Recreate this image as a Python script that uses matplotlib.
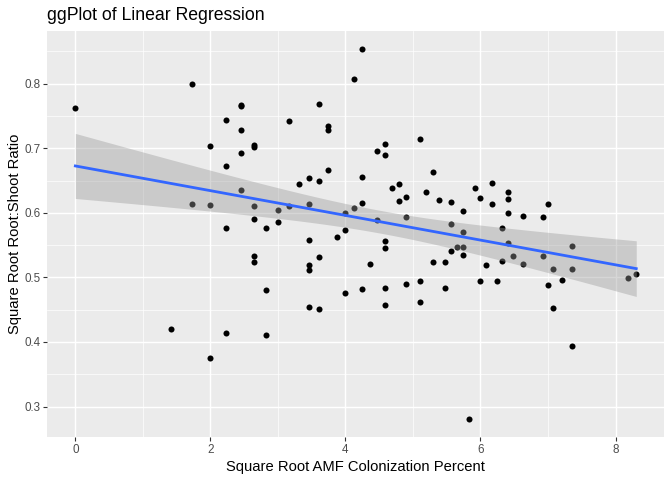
import numpy as np
import matplotlib
matplotlib.use("Agg")
import matplotlib.pyplot as plt
from matplotlib.ticker import MultipleLocator

plt.rcParams['font.family'] = ['Liberation Sans', 'DejaVu Sans']

# Data (x = sqrt AMF colonization %, y = sqrt root:shoot ratio)
x_vals = [0.0,
          1.414,
          1.732, 1.732,
          2.0, 2.0, 2.0,
          2.236, 2.236, 2.236, 2.236,
          2.449, 2.449, 2.449, 2.449, 2.449,
          2.646, 2.646, 2.646, 2.646, 2.646, 2.646,
          2.828, 2.828, 2.828,
          3.0, 3.0,
          3.162, 3.162,
          3.317,
          3.464, 3.464, 3.464, 3.464, 3.464, 3.464,
          3.606, 3.606, 3.606, 3.606,
          3.742, 3.742, 3.742,
          3.873,
          4.0, 4.0, 4.0,
          4.123, 4.123,
          4.243, 4.243, 4.243, 4.243,
          4.359,
          4.472, 4.472,
          4.583, 4.583, 4.583, 4.583, 4.583, 4.583,
          4.690,
          4.796, 4.796,
          4.899, 4.899, 4.899,
          5.099, 5.099, 5.099,
          5.196,
          5.292, 5.292,
          5.385,
          5.477, 5.477,
          5.568, 5.568, 5.568,
          5.657,
          5.745, 5.745, 5.745, 5.745,
          5.831,
          5.916,
          6.0, 6.0,
          6.083,
          6.164, 6.164,
          6.245,
          6.325, 6.325,
          6.403, 6.403, 6.403, 6.403,
          6.481,
          6.633, 6.633,
          6.928, 6.928,
          7.0, 7.0,
          7.071, 7.071,
          7.211,
          7.348, 7.348, 7.348,
          8.185,
          8.307]
y_vals = [0.762,
          0.420,
          0.799, 0.613,
          0.703, 0.612, 0.375,
          0.743, 0.673, 0.577, 0.414,
          0.767, 0.765, 0.729, 0.692, 0.635,
          0.705, 0.702, 0.610, 0.591, 0.533, 0.524,
          0.577, 0.481, 0.411,
          0.604, 0.586,
          0.742, 0.610,
          0.644,
          0.654, 0.613, 0.558, 0.519, 0.511, 0.454,
          0.768, 0.649, 0.532, 0.451,
          0.735, 0.728, 0.666,
          0.562,
          0.599, 0.573, 0.476,
          0.808, 0.608,
          0.853, 0.655, 0.615, 0.482,
          0.521,
          0.695, 0.589,
          0.707, 0.690, 0.556, 0.545, 0.483, 0.458,
          0.639,
          0.644, 0.618,
          0.624, 0.593, 0.490,
          0.714, 0.495, 0.462,
          0.633,
          0.664, 0.524,
          0.620,
          0.524, 0.483,
          0.617, 0.583, 0.541,
          0.547,
          0.603, 0.570, 0.547, 0.534,
          0.281,
          0.638,
          0.623, 0.494,
          0.519,
          0.646, 0.613,
          0.495,
          0.576, 0.526,
          0.633, 0.622, 0.599, 0.554,
          0.533,
          0.595, 0.521,
          0.593, 0.533,
          0.613, 0.488,
          0.513, 0.453,
          0.496,
          0.548, 0.513, 0.394,
          0.499,
          0.505]

x_ticks = [0, 2, 4, 6, 8]
y_ticks = [0.3, 0.4, 0.5, 0.6, 0.7, 0.8]
title = "ggPlot of Linear Regression"
x_label = "Square Root AMF Colonization Percent"
y_label = "Square Root Root:Shoot Ratio"

x = np.array(x_vals)
y = np.array(y_vals)

# linear fit + 95% confidence band (as geom_smooth(method="lm"))
n = len(x)
b1, b0 = np.polyfit(x, y, 1)
resid = y - (b0 + b1 * x)
sigma = np.sqrt(np.sum(resid ** 2) / (n - 2))
xbar = x.mean()
sxx = np.sum((x - xbar) ** 2)
tq = 1.98
xs = np.linspace(x.min(), x.max(), 80)
ys = b0 + b1 * xs
se = sigma * np.sqrt(1.0 / n + (xs - xbar) ** 2 / sxx)

fig = plt.figure(figsize=(6.72, 4.8), dpi=100)
ax = fig.add_axes([47.3 / 672, 1 - 437.3 / 480, (664.3 - 47.3) / 672, (437.3 - 31) / 480])
ax.set_facecolor("#EBEBEB")
for s in ax.spines.values():
    s.set_visible(False)

ax.xaxis.set_major_locator(MultipleLocator(2))
ax.xaxis.set_minor_locator(MultipleLocator(1))
ax.yaxis.set_major_locator(MultipleLocator(0.1))
ax.yaxis.set_minor_locator(MultipleLocator(0.05))
ax.grid(which="major", color="white", linewidth=1.05)
ax.grid(which="minor", color="white", linewidth=0.5)
ax.set_axisbelow(True)

ax.scatter(x, y, s=19, color="black", linewidths=0, zorder=2)
ax.fill_between(xs, ys - tq * se, ys + tq * se, color="#999999", alpha=0.4, linewidth=0, zorder=3)
ax.plot(xs, ys, color="#3366FF", linewidth=2.0, zorder=4)

xr = x.max() - x.min()
yr = y.max() - y.min()
ax.set_xlim(x.min() - 0.05 * xr, x.max() + 0.05 * xr)
ax.set_ylim(y.min() - 0.05 * yr, y.max() + 0.05 * yr)
ax.set_xticks(x_ticks)
ax.set_xticklabels([str(t) for t in x_ticks])
ax.set_yticks(y_ticks)
ax.set_yticklabels([f"{t:.1f}" for t in y_ticks])

ax.tick_params(which="major", length=2.7, width=0.8, color="#333333",
               labelcolor="#4D4D4D", labelsize=8.4, pad=2)
ax.tick_params(which="minor", length=0)

ax.set_xlabel(x_label, fontsize=10.6, color="black", labelpad=3)
ax.set_ylabel(y_label, fontsize=10.6, color="black", labelpad=2)
fig.text(47.3 / 672, 1 - 15 / 480, title, fontsize=12.7, ha="left", va="center", color="black")

fig.savefig("out.png", dpi=100)
